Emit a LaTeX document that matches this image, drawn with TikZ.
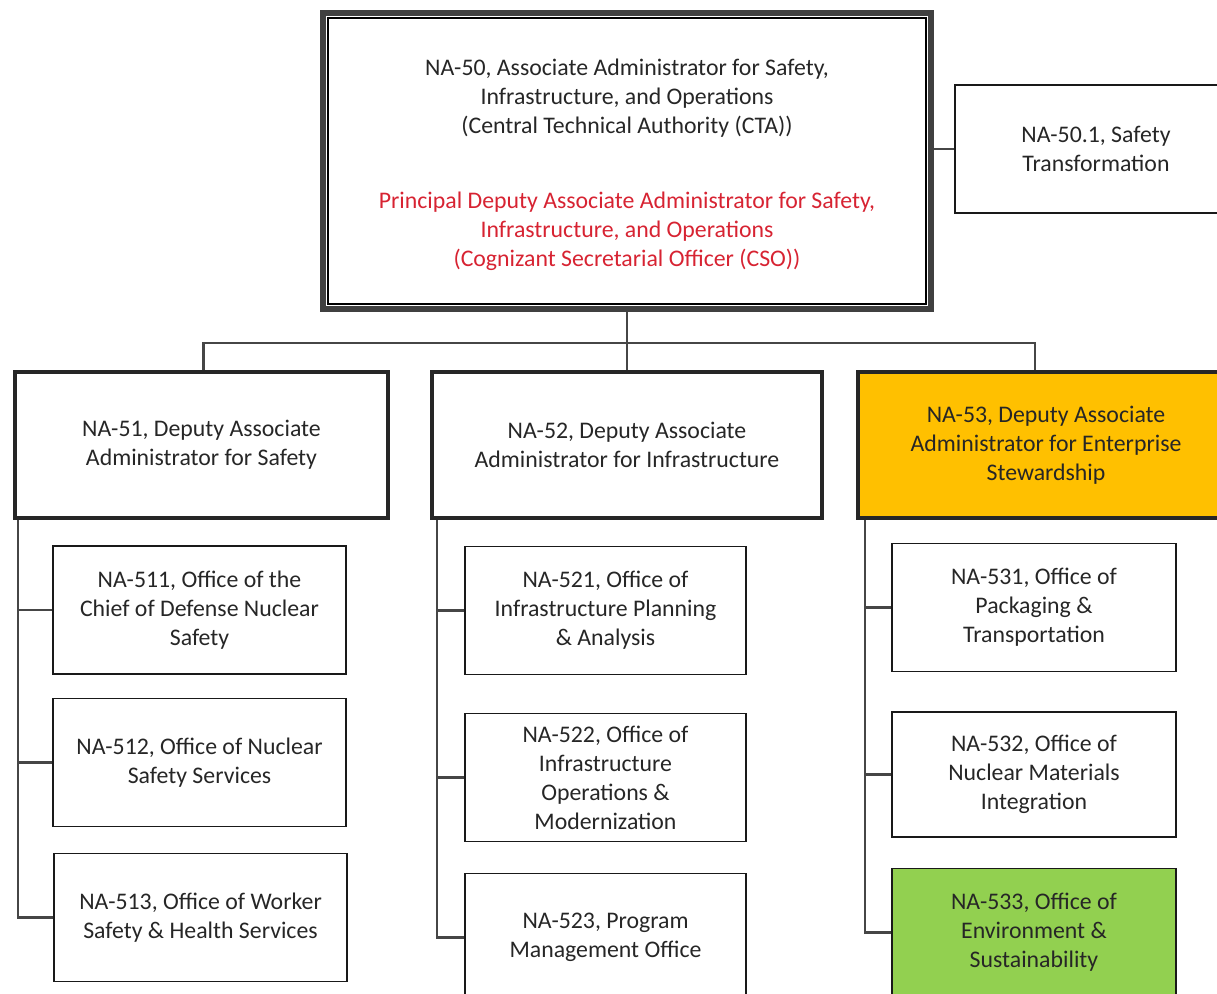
\documentclass[tikz,border=0pt]{standalone}
\usepackage{fontspec}
\setmainfont{Carlito}
\usetikzlibrary{calc}
\definecolor{ctared}{RGB}{215,35,50}
\definecolor{orng}{RGB}{255,192,0}
\definecolor{grn}{RGB}{146,208,80}
\definecolor{lnk}{RGB}{70,70,70}
\begin{document}
\begin{tikzpicture}[x=0.5pt,y=-0.5pt,
  txt/.style={align=center, font=\fontsize{11.9}{14.5}\selectfont, text=black!85, inner sep=0pt},
  box/.style={txt, draw=black!90, line width=0.8pt, minimum width=#1, minimum height=64pt},
  headbox/.style={txt, draw=black!85, line width=2.2pt, minimum width=#1, minimum height=73pt},
  link/.style={draw=lnk, line width=1.2pt}]
\useasboundingbox (0,0) rectangle (1217,994);
\clip (0,0) rectangle (1217,994);

% top
\node[draw=black!75, line width=3pt, minimum width=304pt, minimum height=148pt, inner sep=0pt] (top) at (627,161) {};
\draw[black, line width=0.8pt] ($(top.north west)+(8,8)$) rectangle ($(top.south east)+(-8,-8)$);
\node[txt] (toptxt) at (627,165)
 {NA-50, Associate Administrator for Safety,\\ Infrastructure, and Operations\\ (Central Technical Authority (CTA))\\[23pt]
  \textcolor{ctared}{Principal Deputy Associate Administrator for Safety,}\\ \textcolor{ctared}{Infrastructure, and Operations}\\ \textcolor{ctared}{(Cognizant Secretarial Officer (CSO))}};

\node[box=141pt] (na501) at (1096,149) {NA-50.1, Safety\\ Transformation};

% level 2
\node[headbox=186.5pt] (na51) at (201.5,445) {NA-51, Deputy Associate\\ Administrator for Safety};
\node[headbox=195pt] (na52) at (627,445) {NA-52, Deputy Associate\\ Administrator for Infrastructure};
\node[headbox=188pt, fill=orng] (na53) at (1046,445) {NA-53, Deputy Associate\\ Administrator for Enterprise\\ Stewardship};

% level 3
\node[box=146.5pt] (na511) at (199.5,610) {NA-511, Office of the\\ Chief of Defense Nuclear\\ Safety};
\node[box=146.5pt] (na512) at (199.5,762.5) {NA-512, Office of Nuclear\\ Safety Services};
\node[box=146.5pt] (na513) at (200.5,917.5) {NA-513, Office of Worker\\ Safety \& Health Services};

\node[box=140.5pt] (na521) at (605.5,610.5) {NA-521, Office of\\ Infrastructure Planning\\ \& Analysis};
\node[box=140.5pt] (na522) at (605.5,777.5) {NA-522, Office of\\ Infrastructure\\ Operations \&\\ Modernization};
\node[box=140.5pt] (na523) at (605.5,937.5) {NA-523, Program\\ Management Office};

\node[box=142pt] (na531) at (1034,607.5) {NA-531, Office of\\ Packaging \&\\ Transportation};
\node[box=142pt, minimum height=62.5pt] (na532) at (1034,774.5) {NA-532, Office of\\ Nuclear Materials\\ Integration};
\node[box=142pt, fill=grn] (na533) at (1034,932.5) {NA-533, Office of\\ Environment \&\\ Sustainability};

% connectors
\coordinate (bus) at (627,343);
\coordinate (d53) at ([xshift=-5.5pt]na53.north);
\coordinate (s1) at ([xshift=2.5pt]na51.south west);
\coordinate (s2) at ([xshift=3.5pt]na52.south west);
\coordinate (s3) at ([xshift=4.5pt]na53.south west);

\draw[link] (top.south) -- (bus);
\draw[link] ([xshift=1pt]na51.north) |- (bus) -| (d53);
\draw[link] (bus) -- (na52.north);
\draw[link] (na501.west) -- (na501.west -| top.east);

\draw[link] (s1) |- (na513.west);
\draw[link] (na511.west) -- (na511.west -| s1);
\draw[link] (na512.west) -- (na512.west -| s1);

\draw[link] (s2) |- (na523.west);
\draw[link] (na521.west) -- (na521.west -| s2);
\draw[link] (na522.west) -- (na522.west -| s2);

\draw[link] (s3) |- (na533.west);
\draw[link] (na531.west) -- (na531.west -| s3);
\draw[link] (na532.west) -- (na532.west -| s3);
\end{tikzpicture}
\end{document}
